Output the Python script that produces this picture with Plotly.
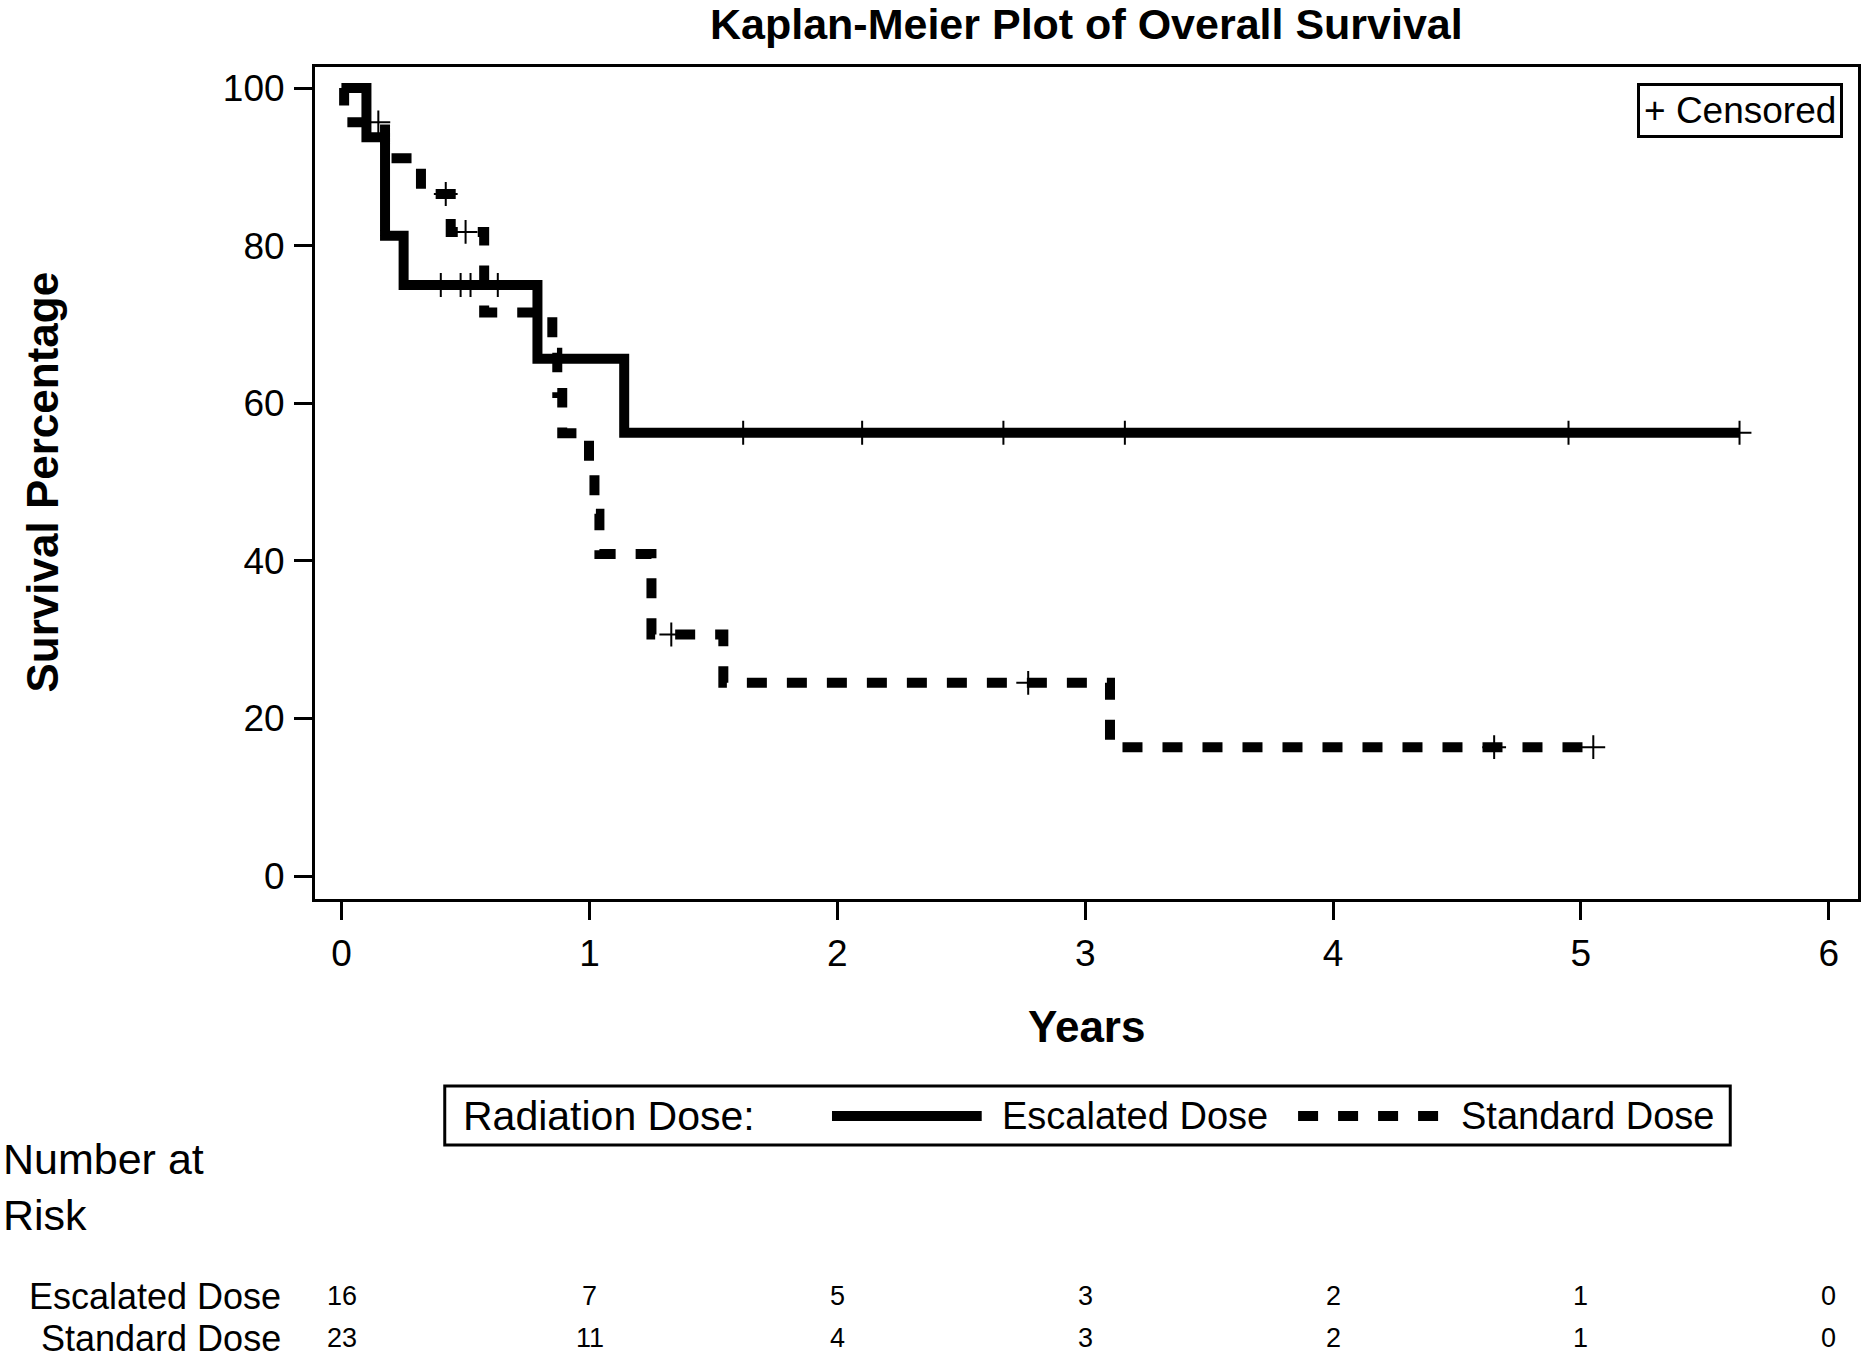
import plotly.graph_objects as go

# ---------------- data ----------------
esc_time = [0, 0.10, 0.175, 0.25, 0.79, 1.14, 5.64]
esc_surv = [100, 93.75, 81.25, 75.0, 65.63, 56.25, 56.25]
esc_cens_time = [0.40, 0.48, 0.52, 0.63, 1.62, 2.10, 2.67, 3.16, 4.95, 5.64]
esc_cens_surv = [75.0, 75.0, 75.0, 75.0, 56.25, 56.25, 56.25, 56.25, 56.25, 56.25]

std_time = [0, 0.01, 0.175, 0.32, 0.44, 0.575, 0.85, 0.87, 0.89, 0.998, 1.02, 1.04, 1.25, 1.54, 3.10, 5.05]
std_surv = [100, 95.65, 91.10, 86.55, 81.74, 71.52, 66.41, 61.30, 56.19, 51.08, 45.97, 40.86, 30.65, 24.52, 16.35, 16.35]
std_cens_time = [0.148, 0.42, 0.50, 1.33, 2.77, 4.65, 5.05]
std_cens_surv = [95.65, 86.55, 81.74, 30.65, 24.52, 16.35, 16.35]

risk_times = [0, 1, 2, 3, 4, 5, 6]
risk_esc = [16, 7, 5, 3, 2, 1, 0]
risk_std = [23, 11, 4, 3, 2, 1, 0]

x_ticks = [0, 1, 2, 3, 4, 5, 6]
y_ticks = [0, 20, 40, 60, 80, 100]

FONT = "Liberation Sans, Arial, sans-serif"
W, H = 1866, 1361
L, R, T, B = 315, 1861, 67, 899  # plot area in px


def px(xp):
    return (xp - L) / (R - L)


def py(yp):
    return (B - yp) / (B - T)


fig = go.Figure()

fig.add_trace(go.Scatter(x=esc_time, y=esc_surv, mode="lines", line_shape="hv",
                         line=dict(color="black", width=10), showlegend=False))
fig.add_trace(go.Scatter(x=std_time, y=std_surv, mode="lines", line_shape="hv",
                         line=dict(color="black", width=10, dash="20px,20px"), showlegend=False))
fig.add_trace(go.Scatter(x=esc_cens_time, y=esc_cens_surv, mode="markers",
                         marker=dict(symbol="cross-thin", size=17, color="black",
                                     line=dict(color="black", width=2)), showlegend=False))
fig.add_trace(go.Scatter(x=std_cens_time, y=std_cens_surv, mode="markers",
                         marker=dict(symbol="cross-thin", size=17, color="black",
                                     line=dict(color="black", width=2)), showlegend=False))

ann = []
# title
ann.append(dict(text="<b>Kaplan-Meier Plot of Overall Survival</b>", x=0.5, y=py(24),
                xref="paper", yref="paper", xanchor="center", yanchor="middle",
                showarrow=False, font=dict(size=43, family=FONT, color="black")))
# axis titles
ann.append(dict(text="<b>Survival Percentage</b>", x=px(42), y=py(482), textangle=-90,
                xref="paper", yref="paper", xanchor="center", yanchor="middle",
                showarrow=False, font=dict(size=44, family=FONT, color="black")))
ann.append(dict(text="<b>Years</b>", x=px(1088), y=py(1026),
                xref="paper", yref="paper", xanchor="center", yanchor="middle",
                showarrow=False, font=dict(size=44, family=FONT, color="black")))
# censored inset
ann.append(dict(text="+ Censored", x=px(1846), y=py(83),
                xref="paper", yref="paper", xanchor="right", yanchor="top",
                showarrow=False, bordercolor="black", borderwidth=3, borderpad=4,
                bgcolor="white", font=dict(size=37, family=FONT, color="black")))
# legend texts
leg_y = py(1116)
ann.append(dict(text="Radiation Dose:", x=px(461), y=leg_y, xref="paper", yref="paper",
                xanchor="left", yanchor="middle", showarrow=False,
                font=dict(size=41, family=FONT, color="black")))
ann.append(dict(text="Escalated Dose", x=px(1001), y=leg_y, xref="paper", yref="paper",
                xanchor="left", yanchor="middle", showarrow=False,
                font=dict(size=38, family=FONT, color="black")))
ann.append(dict(text="Standard Dose", x=px(1461), y=leg_y, xref="paper", yref="paper",
                xanchor="left", yanchor="middle", showarrow=False,
                font=dict(size=38, family=FONT, color="black")))
# number at risk
ann.append(dict(text="Number at<br>Risk", x=px(0), y=py(1187), xref="paper", yref="paper",
                xanchor="left", yanchor="middle", align="left", showarrow=False,
                font=dict(size=43, family=FONT, color="black")))
row_y = [py(1296), py(1338)]
row_lab = ["Escalated Dose", "Standard Dose"]
for lab, yy, vals in zip(row_lab, row_y, [risk_esc, risk_std]):
    ann.append(dict(text=lab, x=px(283), y=yy, xref="paper", yref="paper",
                    xanchor="right", yanchor="middle", showarrow=False,
                    font=dict(size=36, family=FONT, color="black")))
    for t, v in zip(risk_times, vals):
        ann.append(dict(text=str(v), x=t, y=yy, xref="x", yref="paper",
                        xanchor="center", yanchor="middle", showarrow=False,
                        font=dict(size=27, family=FONT, color="black")))

shapes = [
    dict(type="rect", xref="paper", yref="paper", x0=px(445), x1=px(1733), y0=py(1145), y1=py(1086),
         line=dict(color="black", width=3)),
    dict(type="line", xref="paper", yref="paper", x0=px(833), x1=px(983), y0=leg_y, y1=leg_y,
         line=dict(color="black", width=10)),
    dict(type="line", xref="paper", yref="paper", x0=px(1300), x1=px(1442), y0=leg_y, y1=leg_y,
         line=dict(color="black", width=10, dash="20px,20px")),
]

x0v = 0 - (341.7 - L) / 248.3
x1v = 6 + (R - 1831.7) / 248.3
y0v = 0 - (B - 876) / 7.88
y1v = 100 + (88 - T) / 7.88

fig.update_layout(
    width=W, height=H, autosize=False,
    margin=dict(l=L, r=W - R, t=T, b=H - B, pad=0),
    paper_bgcolor="white", plot_bgcolor="white",
    font=dict(family=FONT, color="black", size=37),
    annotations=ann, shapes=shapes, showlegend=False,
    xaxis=dict(range=[x0v, x1v], tickvals=x_ticks, ticktext=[str(v) for v in x_ticks],
               showgrid=False, zeroline=False, showline=True, mirror=True,
               linecolor="black", linewidth=3, ticks="outside", ticklen=18, tickwidth=3,
               tickcolor="black", tickfont=dict(size=37, family=FONT, color="black"),
               ticklabelstandoff=2),
    yaxis=dict(range=[y0v, y1v], tickvals=y_ticks, ticktext=[str(v) for v in y_ticks],
               showgrid=False, zeroline=False, showline=True, mirror=True,
               linecolor="black", linewidth=3, ticks="outside", ticklen=18, tickwidth=3,
               tickcolor="black", tickfont=dict(size=37, family=FONT, color="black"),
               ticklabelstandoff=2),
)

fig.write_html("out.html", config={"displayModeBar": False},
               post_script="document.body.style.margin='0';document.body.style.overflow='hidden';")
